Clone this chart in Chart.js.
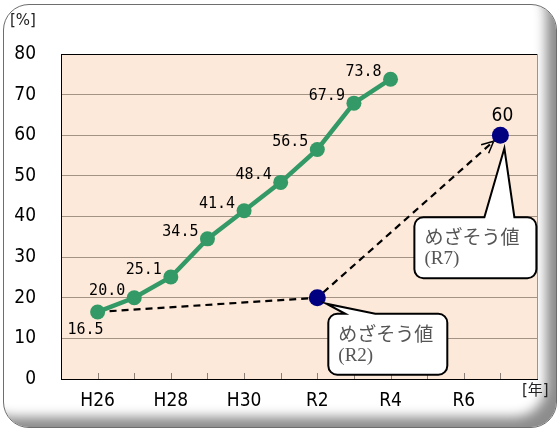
<!DOCTYPE html>
<html>
<head>
<meta charset="utf-8">
<script src="https://cdn.jsdelivr.net/npm/chart.js@4.4.1/dist/chart.umd.min.js"></script>
<style>
  html, body { margin: 0; padding: 0; background: #fff; }
  #wrap { position: relative; width: 560px; height: 430px; }
  #frame {
    position: absolute; left: 3px; top: 4px; width: 552px; height: 422px;
    border: 1px solid #6e6e6e; border-radius: 26px; background: #fff;
    box-shadow: inset -17px -17px 12px -7px rgba(0, 0, 0, 0.45);
  }
  #myChart { position: absolute; left: 0; top: 0; }
</style>
</head>
<body>
<div id="wrap">
  <div id="frame"></div>
  <canvas id="myChart" width="560" height="430"></canvas>
</div>
<script>
// 年度（H26〜R7）
const years = ["H26", "H27", "H28", "H29", "H30", "R1", "R2", "R3", "R4", "R5", "R6", "R7"];
// 実績 [%]
const actualRate = [16.5, 20.0, 25.1, 34.5, 41.4, 48.4, 56.5, 67.9, 73.8, null, null, null];
// めざそう値 [%]
const goalRate = [null, null, null, null, null, null, 20, null, null, null, null, 60];
// 破線（H26実績 → R2目標 → R7目標）
const guideRate = [16.5, null, null, null, null, null, 20, null, null, null, null, 60];
const yTicks = [0, 10, 20, 30, 40, 50, 60, 70, 80];

const toPoints = (arr) =>
  arr.map((v, i) => ({ x: i, y: v })).filter((p) => p.y !== null);

const NARROW = '"Liberation Sans Narrow", "DejaVu Sans Condensed", "Arial Narrow", sans-serif';
const JP = '"Liberation Serif", "Noto Sans CJK JP", serif';
const GRID = "#a39385";

// 背景・目盛り（内向き）
const plotBg = {
  id: "plotBg",
  beforeDraw(chart) {
    const { ctx, chartArea: a } = chart;
    ctx.save();
    ctx.fillStyle = "#fde9d9";
    ctx.fillRect(a.left, a.top, a.right - a.left, a.bottom - a.top);
    ctx.restore();
  },
  beforeDatasetsDraw(chart) {
    const { ctx, chartArea: a, scales: { x } } = chart;
    ctx.save();
    ctx.strokeStyle = "#8a8078";
    ctx.lineWidth = 1;
    years.forEach((_, i) => {
      const px = Math.round(x.getPixelForValue(i)) + 0.5;
      ctx.beginPath();
      ctx.moveTo(px, a.bottom - 6);
      ctx.lineTo(px, a.bottom);
      ctx.stroke();
    });
    ctx.restore();
  },
};

function bubble(ctx, left, top, w, h, apex, baseL, baseR, lines) {
  const r = 9;
  const right = left + w, bottom = top + h;
  ctx.beginPath();
  ctx.moveTo(left + r, top);
  ctx.lineTo(baseL, top);
  ctx.lineTo(apex.x, apex.y);
  ctx.lineTo(baseR, top);
  ctx.arcTo(right, top, right, bottom, r);
  ctx.arcTo(right, bottom, left, bottom, r);
  ctx.arcTo(left, bottom, left, top, r);
  ctx.arcTo(left, top, right, top, r);
  ctx.closePath();
  ctx.fillStyle = "#fff";
  ctx.fill();
  ctx.lineWidth = 2;
  ctx.strokeStyle = "#000";
  ctx.stroke();
  ctx.fillStyle = "#555";
  ctx.font = "19px " + JP;
  ctx.textAlign = "left";
  ctx.textBaseline = "middle";
  ctx.fillText(lines[0], left + 10, top + 22);
  ctx.fillText(lines[1], left + 10, top + 42);
}

// ラベル・吹き出し・矢印
const overlay = {
  id: "overlay",
  afterDatasetsDraw(chart) {
    const { ctx, chartArea: a, scales: { x, y } } = chart;
    ctx.save();

    // 実績ラベル
    ctx.font = '15px "DejaVu Sans Mono", monospace';
    ctx.fillStyle = "#000";
    ctx.textBaseline = "middle";
    ctx.textAlign = "right";
    actualRate.forEach((v, i) => {
      if (v === null) return;
      const px = x.getPixelForValue(i), py = y.getPixelForValue(v);
      if (i === 0) {
        ctx.fillText(v.toFixed(1), px + 6, py + 18);
      } else {
        ctx.fillText(v.toFixed(1), px - 9, py - 7);
      }
    });

    // R7 めざそう値ラベル
    const iR2 = years.indexOf("R2"), iR7 = years.indexOf("R7");
    const p2 = { x: x.getPixelForValue(iR2), y: y.getPixelForValue(goalRate[iR2]) };
    const p7 = { x: x.getPixelForValue(iR7), y: y.getPixelForValue(goalRate[iR7]) };
    ctx.font = "19px " + NARROW;
    ctx.textAlign = "center";
    ctx.fillText(String(goalRate[iR7]), p7.x + 2, p7.y - 19);

    // 矢印
    const dx = p7.x - p2.x, dy = p7.y - p2.y;
    const len = Math.hypot(dx, dy);
    const ux = dx / len, uy = dy / len;
    const tip = { x: p7.x - ux * 9, y: p7.y - uy * 9 };
    const ang = Math.atan2(uy, ux);
    ctx.strokeStyle = "#000";
    ctx.lineWidth = 1.5;
    ctx.beginPath();
    [0.45, -0.45].forEach((d) => {
      ctx.moveTo(tip.x, tip.y);
      ctx.lineTo(tip.x - 13 * Math.cos(ang + d), tip.y - 13 * Math.sin(ang + d));
    });
    ctx.stroke();

    // 吹き出し
    bubble(ctx, p2.x + 11, p2.y + 16, 119, 61,
      { x: p2.x + 9, y: p2.y + 6 }, p2.x + 28, p2.x + 58, ["めざそう値", "(R2)"]);
    bubble(ctx, p7.x - 86, p7.y + 82, 122, 61,
      { x: p7.x + 4, y: p7.y + 13 }, p7.x - 16, p7.x + 14, ["めざそう値", "(R7)"]);

    // 単位
    ctx.font = '15px "DejaVu Sans", "Noto Sans CJK JP", sans-serif';
    ctx.fillStyle = "#222";
    ctx.textAlign = "left";
    ctx.textBaseline = "middle";
    ctx.fillText("[%]", 10, 21);
    ctx.fillText("[年]", a.right - 15, a.bottom + 12);
    ctx.restore();
  },
};

const config = {
  type: "line",
  data: {
    datasets: [
      {
        label: "めざそう値",
        data: toPoints(goalRate),
        showLine: false,
        pointRadius: 8.5,
        pointBackgroundColor: "#000080",
        pointBorderColor: "#000080",
        pointBorderWidth: 0,
      },
      {
        label: "実績",
        data: toPoints(actualRate),
        borderColor: "#339966",
        borderWidth: 4.5,
        pointRadius: 7.5,
        pointBackgroundColor: "#339966",
        pointBorderColor: "#339966",
        pointBorderWidth: 0,
        tension: 0,
      },
      {
        label: "",
        data: toPoints(guideRate),
        borderColor: "#000",
        borderWidth: 2.2,
        borderDash: [7, 5],
        pointRadius: 0,
        tension: 0,
      },
    ],
  },
  options: {
    responsive: false,
    animation: false,
    layout: { padding: { top: 54, right: 23, left: 0, bottom: 0 } },
    scales: {
      x: {
        type: "linear",
        min: -1,
        max: years.length,
        afterFit(scale) { scale.height = 51; },
        grid: {
          drawTicks: false,
          color: (c) => (c.tick && c.tick.value === years.length ? GRID : "rgba(0,0,0,0)"),
        },
        border: { color: "#000", width: 1 },
        ticks: {
          stepSize: 1,
          autoSkip: false,
          maxRotation: 0,
          padding: 11,
          color: "#000",
          font: { family: NARROW, size: 19 },
          callback: (v) => (Number.isInteger(v) && v >= 0 && v < years.length && v % 2 === 0 ? years[v] : ""),
        },
      },
      y: {
        min: yTicks[0],
        max: yTicks[yTicks.length - 1],
        afterFit(scale) { scale.width = 61; },
        afterBuildTicks(scale) { scale.ticks = yTicks.map((v) => ({ value: v })); },
        grid: {
          drawTicks: false,
          color: (c) => (c.tick && c.tick.value === 80 ? "#000" : GRID),
        },
        border: { color: "#000", width: 1 },
        ticks: {
          padding: 25,
          color: "#000",
          font: { family: NARROW, size: 19 },
        },
      },
    },
    plugins: {
      legend: { display: false },
      tooltip: { enabled: false },
    },
  },
  plugins: [plotBg, overlay],
};

new Chart(document.getElementById("myChart"), config);
</script>
</body>
</html>
